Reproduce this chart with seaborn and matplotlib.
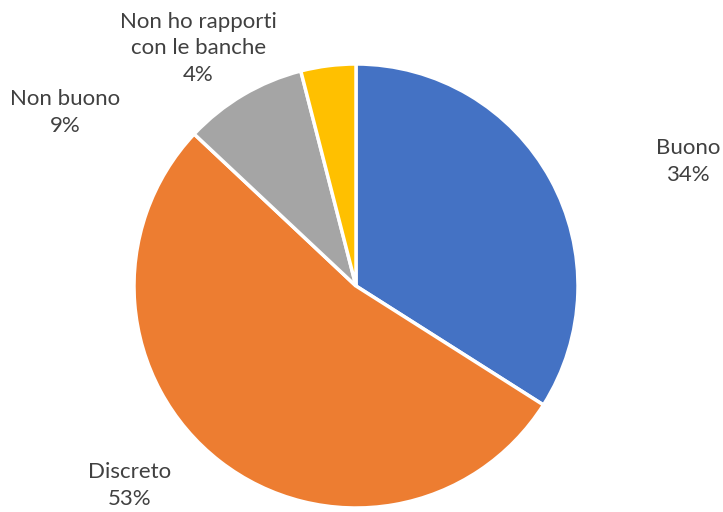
import matplotlib
matplotlib.use("Agg")
import matplotlib.pyplot as plt
import seaborn as sns

# dati
categorie = ["Buono", "Discreto", "Non buono", "Non ho rapporti\ncon le banche"]
percentuali = [34, 53, 9, 4]
colori = ["#4472C4", "#ED7D31", "#A5A5A5", "#FFC000"]
# posizione delle etichette (coordinate del grafico, raggio = 1)
pos_etichette = [(1.495, 0.56), (-1.02, -0.90), (-1.31, 0.78), (-0.71, 1.07)]

sns.set_theme(style="white")
plt.rcParams['font.family'] = ['Lato', 'DejaVu Sans']

fig = plt.figure(figsize=(7.23, 5.12), dpi=100, facecolor='white')
ax = fig.add_axes([134 / 723, 4 / 512, 444 / 723, 444 / 512])

ax.pie(percentuali, colors=colori, startangle=90, counterclock=False,
       wedgeprops=dict(edgecolor='white', linewidth=2.5))
ax.set_xlim(-1, 1)
ax.set_ylim(-1, 1)
ax.set_aspect('equal')
ax.axis('off')

for cat, val, (x, y) in zip(categorie, percentuali, pos_etichette):
    ax.text(x, y, f"{cat}\n{val}%", ha='center', va='center', fontsize=16,
            color='#404040', linespacing=1.42, clip_on=False)

plt.savefig('out.png', dpi=100, facecolor='white')
